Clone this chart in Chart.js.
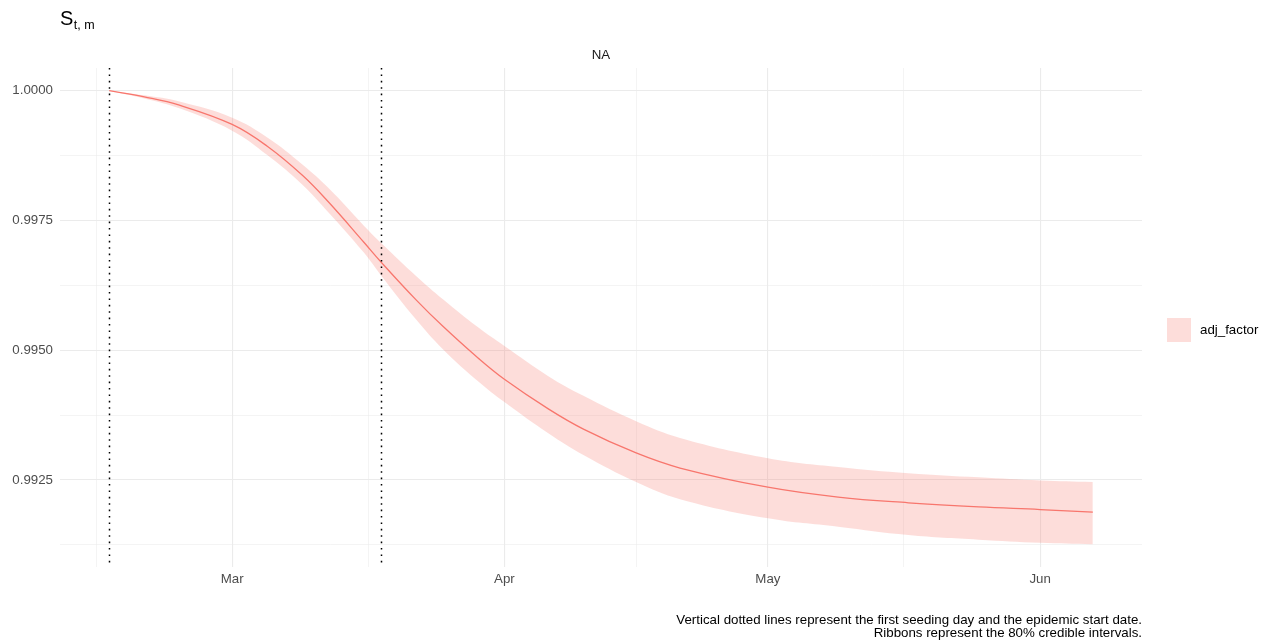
<!DOCTYPE html>
<html>
<head>
<meta charset="utf-8">
<script src="https://cdn.jsdelivr.net/npm/chart.js@4"></script>
<style>
  html, body { margin: 0; padding: 0; background: #fff; }
  canvas { display: block; }
</style>
</head>
<body>
<canvas id="chart" width="1270" height="643"></canvas>
<script>
// days counted from 1 March
const days = [-14, -10, -6, 0, 4, 8, 11, 15, 17, 21, 24, 28, 31, 36, 40, 46, 51, 61, 69, 77, 85, 92, 98];
const meanValues = [1.0000, 0.99988, 0.99972, 0.99935, 0.99893, 0.99837, 0.99785, 0.99708, 0.99669, 0.99596, 0.99546, 0.99485, 0.99444, 0.99387, 0.99348, 0.99302, 0.99273, 0.99236, 0.99217, 0.99206, 0.99198, 0.99193, 0.99188];
const upperValues = [1.0000, 0.99991, 0.99979, 0.99948, 0.99910, 0.99858, 0.99812, 0.99740, 0.99706, 0.99642, 0.99598, 0.99544, 0.99508, 0.99450, 0.99412, 0.99363, 0.99331, 0.99292, 0.99275, 0.99263, 0.99255, 0.99249, 0.99246];
const lowerValues = [1.0000, 0.99985, 0.99966, 0.99923, 0.99876, 0.99819, 0.99765, 0.99688, 0.99643, 0.99558, 0.99502, 0.99440, 0.99400, 0.99340, 0.99298, 0.99246, 0.99213, 0.99176, 0.99160, 0.99144, 0.99135, 0.99129, 0.99126];

const monthTicks = [0, 31, 61, 92];
const monthLabels = ["Mar", "Apr", "May", "Jun"];
const minorXTicks = [-15.5, 15.5, 46, 76.5];
const yMajorTicks = [0.9925, 0.995, 0.9975, 1.0];
const yMinorTicks = [0.99125, 0.99375, 0.99625, 0.99875];
const markerDays = [-14, 17]; // first seeding day, epidemic start

const seriesName = "adj_factor";
const lineColor = "#F8766D";
const ribbonColor = "rgba(248, 118, 109, 0.25)";
const font = "'Liberation Sans', Arial, sans-serif";
const textSize = 13.3;

const toPoints = vals => days.map((d, i) => ({ x: d, y: vals[i] }));

// ggplot style 5% expansion
const xPad = (days[days.length - 1] - days[0]) * 0.05;
const yLo = Math.min(...lowerValues), yHi = Math.max(...upperValues);
const yPad = (yHi - yLo) * 0.05;

function tickList(major, minor) {
  return major.map(v => ({ value: v, major: true }))
    .concat(minor.map(v => ({ value: v, major: false })))
    .sort((a, b) => a.value - b.value);
}

const gridColor = "#ebebeb";
const gridWidth = ctx => (ctx.tick && ctx.tick.major ? 1.1 : 0.55);

const extras = {
  id: "extras",
  afterDatasetsDraw(chart) {
    const { ctx, chartArea, scales } = chart;
    ctx.save();
    ctx.strokeStyle = "#000";
    ctx.lineWidth = 1.5;
    ctx.setLineDash([1.6, 4.8]);
    markerDays.forEach(d => {
      const x = Math.round(scales.x.getPixelForValue(d)) + 0.5;
      ctx.beginPath();
      ctx.moveTo(x, chartArea.top);
      ctx.lineTo(x, chartArea.bottom);
      ctx.stroke();
    });
    ctx.restore();
  },
  afterDraw(chart) {
    const { ctx, chartArea } = chart;
    ctx.save();
    // y-axis title S_{t, m}
    ctx.fillStyle = "#000";
    ctx.textBaseline = "alphabetic";
    ctx.textAlign = "left";
    ctx.font = "20px " + font;
    ctx.fillText("S", 60, 25);
    const sw = ctx.measureText("S").width;
    ctx.font = "12.5px " + font;
    ctx.fillText("t, m", 60 + sw + 0.5, 29);

    // facet strip
    ctx.fillStyle = "#1a1a1a";
    ctx.font = textSize + "px " + font;
    ctx.textAlign = "center";
    ctx.textBaseline = "middle";
    ctx.fillText("NA", (chartArea.left + chartArea.right) / 2, 55);

    // legend
    ctx.fillStyle = ribbonColor;
    ctx.fillRect(1167, 318, 24, 24);
    ctx.fillStyle = "#000";
    ctx.textAlign = "left";
    ctx.fillText(seriesName, 1200, 330);

    // caption
    ctx.textAlign = "right";
    ctx.fillText("Vertical dotted lines represent the first seeding day and the epidemic start date.", chartArea.right, 620);
    ctx.fillText("Ribbons represent the 80% credible intervals.", chartArea.right, 633);
    ctx.restore();
  }
};

new Chart(document.getElementById("chart").getContext("2d"), {
  type: "line",
  data: {
    datasets: [
      {
        label: seriesName + " upper",
        data: toPoints(upperValues),
        borderWidth: 0,
        pointRadius: 0,
        backgroundColor: ribbonColor,
        fill: "+1",
        tension: 0.4,
        order: 2
      },
      {
        label: seriesName + " lower",
        data: toPoints(lowerValues),
        borderWidth: 0,
        pointRadius: 0,
        fill: false,
        tension: 0.4,
        order: 2
      },
      {
        label: seriesName,
        data: toPoints(meanValues),
        borderColor: lineColor,
        borderWidth: 1.3,
        pointRadius: 0,
        fill: false,
        tension: 0.4,
        order: 1
      }
    ]
  },
  options: {
    responsive: false,
    animation: false,
    layout: { padding: { top: 68, right: 128, left: 0, bottom: 0 } },
    plugins: {
      legend: { display: false },
      tooltip: { enabled: false }
    },
    scales: {
      x: {
        type: "linear",
        min: days[0] - xPad,
        max: days[days.length - 1] + xPad,
        afterBuildTicks: axis => { axis.ticks = tickList(monthTicks, minorXTicks); },
        afterFit: axis => { axis.height = 76; },
        border: { display: false },
        grid: { color: gridColor, lineWidth: gridWidth, drawTicks: false },
        ticks: {
          autoSkip: false,
          maxRotation: 0,
          padding: 4,
          color: "#4d4d4d",
          font: { family: font, size: textSize },
          callback: function (value) {
            const i = monthTicks.indexOf(value);
            return i >= 0 ? monthLabels[i] : "";
          }
        }
      },
      y: {
        type: "linear",
        min: yLo - yPad,
        max: yHi + yPad,
        afterBuildTicks: axis => { axis.ticks = tickList(yMajorTicks, yMinorTicks); },
        afterFit: axis => { axis.width = 60; },
        border: { display: false },
        grid: { color: gridColor, lineWidth: gridWidth, drawTicks: false },
        ticks: {
          autoSkip: false,
          padding: 7,
          color: "#4d4d4d",
          font: { family: font, size: textSize },
          callback: function (value, index, ticks) {
            return ticks[index].major ? value.toFixed(4) : "";
          }
        }
      }
    }
  },
  plugins: [extras]
});
</script>
</body>
</html>
